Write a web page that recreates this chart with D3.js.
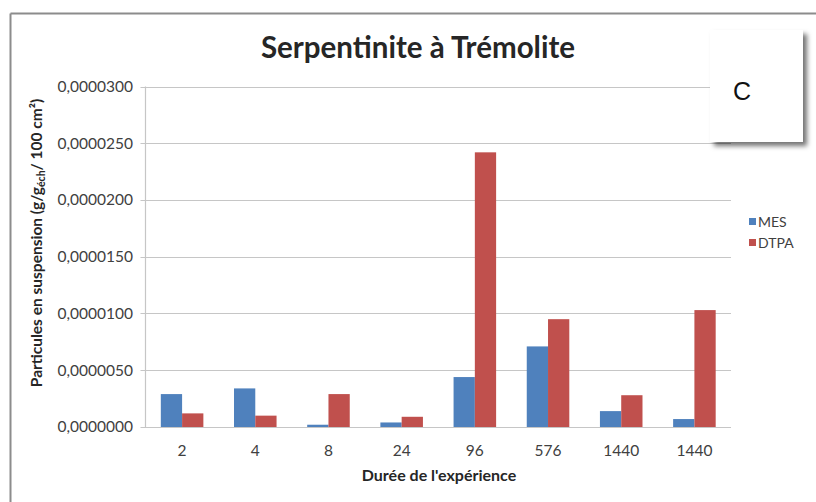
<!DOCTYPE html>
<html>
<head>
<meta charset="utf-8">
<script src="https://cdn.jsdelivr.net/npm/d3@7"></script>
<style>
  html, body { margin: 0; padding: 0; background: #fff; }
  svg { display: block; }
</style>
</head>
<body>
<svg id="chart" width="816" height="502"></svg>
<script>
// Durations (hours) and suspended particle amounts (g/g_éch / 100 cm²)
const categories = ["2", "4", "8", "24", "96", "576", "1440", "1440"];
const seriesNames = ["MES", "DTPA"];
const mesValues  = [0.0000029, 0.0000034, 0.0000002, 0.0000004, 0.0000044, 0.0000071, 0.0000014, 0.0000007];
const dtpaValues = [0.0000012, 0.0000010, 0.0000029, 0.0000009, 0.0000242, 0.0000095, 0.0000028, 0.0000103];
const yTicks = [0, 0.000005, 0.00001, 0.000015, 0.00002, 0.000025, 0.00003];
const colors = ["#4f81bd", "#c0504d"];

const svg = d3.select("#chart");
const font = "Lato, 'Open Sans', sans-serif";

// outer chart frame (top and left edges visible)
svg.append("line").attr("x1", 10.5).attr("x2", 816).attr("y1", 13.5).attr("y2", 13.5)
  .attr("stroke", "#8c8c8c").attr("stroke-width", 2);
svg.append("line").attr("x1", 10.5).attr("x2", 10.5).attr("y1", 13.5).attr("y2", 502)
  .attr("stroke", "#8c8c8c").attr("stroke-width", 2);

const plot = { left: 145.5, right: 731, top: 86.5, bottom: 427 };

const x = d3.scaleBand().domain(d3.range(categories.length))
  .range([plot.left, plot.right]).paddingInner(0).paddingOuter(0);
const xSub = d3.scaleBand().domain(seriesNames).range([0, x.bandwidth()]).paddingInner(0).paddingOuter(0.72);
const y = d3.scaleLinear().domain([0, 0.00003]).range([plot.bottom, plot.top]);

// horizontal gridlines
svg.append("g").selectAll("line").data(yTicks).join("line")
  .attr("x1", plot.left - 5).attr("x2", plot.right)
  .attr("y1", d => Math.round(y(d)) + 0.5).attr("y2", d => Math.round(y(d)) + 0.5)
  .attr("stroke", "#c6c6c6").attr("stroke-width", 1.2);

// vertical axis line
svg.append("line").attr("x1", plot.left).attr("x2", plot.left)
  .attr("y1", plot.top).attr("y2", plot.bottom + 0.5)
  .attr("stroke", "#c6c6c6").attr("stroke-width", 1.2);

// y tick labels
const fmt = d => d.toFixed(7).replace(".", ",");
svg.append("g").selectAll("text").data(yTicks).join("text")
  .attr("x", 133).attr("y", d => y(d)).attr("dy", "0.35em")
  .attr("text-anchor", "end").attr("font-family", font).attr("font-size", 15.5)
  .attr("fill", "#404040").text(fmt);

// bars
const series = [mesValues, dtpaValues];
series.forEach((vals, si) => {
  svg.append("g").selectAll("rect").data(vals).join("rect")
    .attr("x", (d, i) => x(i) + xSub(seriesNames[si]))
    .attr("width", xSub.bandwidth())
    .attr("y", d => y(d))
    .attr("height", d => y(0) - y(d))
    .attr("fill", colors[si]);
});

// x tick labels
svg.append("g").selectAll("text").data(categories).join("text")
  .attr("x", (d, i) => x(i) + x.bandwidth() / 2).attr("y", 456)
  .attr("text-anchor", "middle").attr("font-family", font).attr("font-size", 15.5)
  .attr("fill", "#404040").text(d => d);

// axis titles
svg.append("text").attr("x", 439).attr("y", 481).attr("text-anchor", "middle")
  .attr("font-family", font).attr("font-size", 16).attr("font-weight", "bold")
  .attr("fill", "#262626").text("Durée de l'expérience");

const yt = svg.append("text").attr("transform", "translate(42,243) rotate(-90)")
  .attr("text-anchor", "middle").attr("font-family", font).attr("font-size", 15.5)
  .attr("font-weight", "bold").attr("fill", "#262626");
yt.append("tspan").text("Particules en suspension (g/g");
yt.append("tspan").attr("font-size", 10.5).attr("dy", 3).text("éch");
yt.append("tspan").attr("dy", -3).text("/ 100 cm²)");

// title
svg.append("text").attr("x", 418).attr("y", 58).attr("text-anchor", "middle")
  .attr("font-family", font).attr("font-size", 29.5).attr("font-weight", "bold")
  .attr("fill", "#262626").text("Serpentinite à Trémolite");

// legend
const legend = svg.append("g").selectAll("g").data(seriesNames).join("g")
  .attr("transform", (d, i) => `translate(749,${222 + i * 21})`);
legend.append("rect").attr("x", 0).attr("y", -4).attr("width", 7).attr("height", 7)
  .attr("fill", (d, i) => colors[i]);
legend.append("text").attr("x", 9).attr("y", 0).attr("dy", "0.35em")
  .attr("font-family", font).attr("font-size", 14).attr("fill", "#404040").text(d => d);

// panel label box with drop shadow
const defs = svg.append("defs");
const f = defs.append("filter").attr("id", "shadow").attr("x", "-20%").attr("y", "-20%")
  .attr("width", "150%").attr("height", "150%");
f.append("feDropShadow").attr("dx", 4).attr("dy", 4).attr("stdDeviation", 2.5)
  .attr("flood-color", "#000").attr("flood-opacity", 0.55);
svg.append("rect").attr("x", 710).attr("y", 30).attr("width", 93).attr("height", 112)
  .attr("fill", "#fff").attr("filter", "url(#shadow)");
svg.append("text").attr("x", 742).attr("y", 100).attr("text-anchor", "middle")
  .attr("font-family", "'Liberation Sans', Arial, sans-serif").attr("font-size", 25)
  .attr("fill", "#111").text("C");
</script>
</body>
</html>
